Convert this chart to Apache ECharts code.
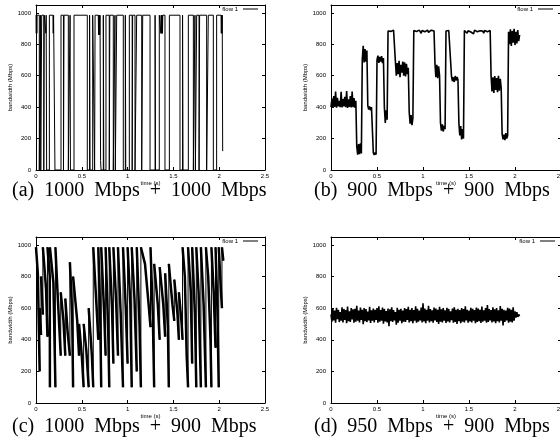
<!DOCTYPE html>
<html>
<head>
<meta charset="utf-8">
<script src="https://cdn.jsdelivr.net/npm/echarts@6/dist/echarts.min.js"></script>
<style>
html, body { margin: 0; padding: 0; background: #fff; }
#main { width: 560px; height: 443px; }
</style>
</head>
<body>
<div id="main"></div>
<script>
// captions under each panel
const captions = [
  '(a)  1000  Mbps  +  1000  Mbps',
  '(b)  900  Mbps  +  900  Mbps',
  '(c)  1000  Mbps  +  900  Mbps',
  '(d)  950  Mbps  +  900  Mbps'
];
const xTicks = [0, 0.5, 1, 1.5, 2, 2.5];
const yTicks = [0, 200, 400, 600, 800, 1000];

// (a) on/off square wave, [time s, Mbps]
const aPoints = [
  [0,985],[0.003,870],[0.006,985],[0.009,870],[0.012,985],[0.036,985],[0.036,0],
  [0.048,0],[0.048,985],[0.052,985],[0.052,0],
  [0.062,0],[0.062,985],[0.085,985],[0.085,0],[0.09,0],[0.09,985],[0.105,985],[0.108,870],[0.111,985],[0.116,985],[0.116,0],
  [0.146,0],[0.146,985],[0.185,985],[0.188,870],[0.192,985],[0.207,985],[0.207,0],
  [0.273,0],[0.273,985],[0.30,985],[0.30,0],[0.306,0],[0.306,985],[0.353,985],[0.353,0],
  [0.372,0],[0.372,985],[0.376,985],[0.376,0],
  [0.415,0],[0.415,985],[0.56,985],[0.56,0],
  [0.585,0],[0.585,985],[0.59,985],[0.59,0],
  [0.619,0],[0.619,985],[0.64,985],[0.64,0],[0.645,0],[0.645,985],[0.68,985],[0.683,860],[0.686,985],[0.689,860],[0.692,985],[0.695,860],[0.699,985],[0.705,985],[0.705,60],[0.71,60],[0.71,0],
  [0.735,0],[0.735,985],[0.74,985],[0.74,0],
  [0.764,0],[0.764,985],[0.80,985],[0.80,0],[0.806,0],[0.806,985],[0.844,985],[0.844,0],
  [0.862,0],[0.862,985],[0.866,985],[0.866,0],
  [0.881,0],[0.881,985],[0.953,985],[0.953,0],
  [0.975,0],[0.975,985],[0.98,985],[0.98,0],
  [1.019,0],[1.019,985],[1.05,985],[1.05,0],[1.055,0],[1.055,985],[1.081,985],[1.081,0],
  [1.099,0],[1.099,985],[1.154,985],[1.154,0],
  [1.165,0],[1.165,985],[1.245,985],[1.245,0],
  [1.30,0],[1.30,985],[1.305,985],[1.305,0],
  [1.346,0],[1.346,985],[1.36,985],[1.363,870],[1.366,985],[1.369,870],[1.372,985],[1.375,870],[1.378,985],[1.381,870],[1.384,985],[1.408,985],[1.408,0],
  [1.456,0],[1.456,985],[1.572,985],[1.572,0],
  [1.60,0],[1.60,985],[1.605,985],[1.605,0],
  [1.663,0],[1.663,985],[1.718,985],[1.718,0],
  [1.735,0],[1.735,985],[1.74,985],[1.74,0],
  [1.754,0],[1.754,985],[1.78,985],[1.78,0],[1.786,0],[1.786,985],[1.863,985],[1.863,0],
  [1.881,0],[1.881,985],[1.936,985],[1.936,0],
  [1.972,0],[1.972,985],[2.02,985],[2.023,870],[2.026,985],[2.03,870],[2.033,985],[2.038,985],[2.038,120]
];

// (b) sampled every 10 ms
const bStep = 0.01;
const bValues = [
  400,455,398,470,402,500,396,460,405,440,400,498,398,452,404,465,400,502,395,450,402,470,398,500,400,458,396,440,
  150,98,165,100,170,105,
  700,790,685,770,690,760,
  410,385,405,380,400,392,
  110,96,112,98,
  700,728,682,720,690,725,680,712,
  400,300,380,320,
  885,878,890,882,888,876,890,884,
  690,600,680,610,695,590,670,620,690,600,685,595,675,610,650,
  370,295,350,285,330,
  888,880,890,882,886,878,890,884,870,888,882,890,880,886,884,890,876,888,882,890,880,886,884,
  680,590,670,585,660,600,
  300,250,290,245,280,260,
  885,890,880,888,884,890,
  595,565,590,560,598,570,592,575,
  300,220,280,195,260,200,
  888,882,890,870,886,884,890,878,888,882,866,890,884,888,880,890,875,886,882,890,884,870,888,882,890,880,886,884,888,
  600,500,590,490,598,510,585,495,600,505,580,520,
  230,195,225,190,235,200,220,
  880,800,895,790,885,810,898,795,880,805,890,820,860
];

// (c) sawtooth, [time s, Mbps]
const cPoints = [
  [0.000,985],[0.020,820],[0.040,200],
  [0.040,600],[0.055,430],
  [0.055,800],[0.075,560],
  [0.075,985],[0.110,720],[0.125,420],
  [0.125,985],[0.150,800],[0.152,100],
  [0.152,985],[0.190,760],[0.212,100],
  [0.212,985],[0.235,700],[0.270,300],
  [0.270,700],[0.300,520],[0.320,300],
  [0.320,660],[0.345,450],[0.370,300],
  [0.370,890],[0.395,560],[0.405,100],
  [0.405,800],[0.450,520],[0.470,300],
  [0.470,500],[0.500,300],[0.520,100],
  [0.520,500],[0.550,330],[0.575,100],
  [0.575,600],[0.610,300],[0.625,100],
  [0.625,985],[0.660,620],[0.680,400],
  [0.680,985],[0.700,600],[0.712,100],
  [0.712,985],[0.745,560],[0.760,300],
  [0.760,985],[0.790,420],[0.800,100],
  [0.800,985],[0.830,600],[0.845,250],
  [0.845,985],[0.875,640],[0.895,300],
  [0.895,985],[0.925,560],[0.950,100],
  [0.950,985],[0.980,600],[1.000,250],
  [1.000,985],[1.030,620],[1.045,100],
  [1.045,985],[1.075,660],[1.100,200],
  [1.100,985],[1.130,500],[1.145,100],
  [1.145,985],[1.190,880],[1.230,620],[1.250,480],
  [1.250,985],[1.275,560],[1.290,100],
  [1.290,880],[1.330,620],[1.350,400],
  [1.350,860],[1.390,620],[1.410,420],
  [1.410,820],[1.440,480],[1.450,100],
  [1.450,880],[1.490,620],[1.510,520],
  [1.510,780],[1.545,560],[1.560,400],
  [1.560,700],[1.590,500],[1.600,400],
  [1.600,985],[1.625,800],[1.645,300],[1.660,100],
  [1.660,985],[1.690,700],[1.705,250],
  [1.705,985],[1.735,560],[1.750,100],
  [1.750,985],[1.775,700],[1.800,100],
  [1.800,985],[1.830,620],[1.855,100],
  [1.855,985],[1.880,800],[1.905,400],[1.915,100],
  [1.915,985],[1.940,700],[1.960,350],
  [1.960,985],[1.980,600],[1.995,100],
  [1.995,985],[2.020,700],[2.030,600],[2.030,985],[2.045,900]
];

// (d) sampled every 10 ms
const dStep = 0.01;
const dValues = [
  560,515,598,522,585,508,602,530,590,512,
  575,520,605,510,595,525,588,505,610,518,
  580,512,600,528,592,508,596,515,615,520,
  585,510,603,525,590,498,600,518,594,512,
  578,522,608,506,586,520,597,510,590,525,
  600,508,612,515,588,520,604,502,595,516,
  582,510,598,485,592,518,606,512,588,522,
  575,495,602,508,590,520,596,505,584,515,
  600,512,594,526,608,510,590,518,600,505,
  588,520,612,508,596,514,585,522,603,510,
  630,516,598,505,590,520,615,510,594,518,
  586,508,604,522,597,512,590,500,608,515,
  592,510,600,520,586,506,602,516,595,510,
  580,524,598,508,606,512,590,500,596,518,
  588,505,600,515,594,510,612,522,590,508,
  584,516,602,510,596,520,588,505,604,512,
  598,518,590,506,610,514,586,520,600,508,
  620,512,594,522,588,510,606,516,592,505,
  600,518,586,510,614,520,596,490,590,512,
  584,522,602,508,598,515,590,510,606,520,
  580,540,575,545,560,550
];

var chartDom = document.getElementById('main');
var myChart = echarts.init(chartDom, null, { renderer: 'canvas' });

const grids = [
  { left: 36, top: 5, width: 229, height: 165, outerBoundsMode: 'none' },
  { left: 331, top: 5, width: 230, height: 165, outerBoundsMode: 'none' },
  { left: 36, top: 237, width: 229, height: 166, outerBoundsMode: 'none' },
  { left: 331, top: 237, width: 230, height: 166, outerBoundsMode: 'none' }
];
const captionPos = [[12, 191], [314, 191], [12, 427], [314, 427]];
const legendPos = [[302, 6], [7, 6], [302, 238], [5, 238]];

const labelFont = { fontSize: 6, color: '#000', fontFamily: 'Liberation Sans' };
const black = { color: '#000', width: 1 };

function sampled(values, step) {
  return values.map((v, i) => [+(i * step).toFixed(3), v]);
}

// keep only the sloped parts of a path, broken at the vertical jumps
function rampsOf(pts) {
  let out = [];
  let inRamp = false;
  for (let i = 0; i < pts.length - 1; i++) {
    if (pts[i + 1][0] > pts[i][0]) {
      if (!inRamp) out.push(pts[i]);
      out.push(pts[i + 1]);
      inRamp = true;
    } else if (inRamp) {
      out.push([pts[i][0], null]);
      inRamp = false;
    }
  }
  return out;
}

let xAxes = [], yAxes = [];
grids.forEach((g, i) => {
  xAxes.push({
    type: 'value', gridIndex: i, position: 'bottom',
    min: 0, max: 2.5, interval: 0.5,
    name: 'time (s)', nameLocation: 'middle', nameGap: 10,
    nameTextStyle: labelFont,
    axisLine: { show: true, onZero: false, lineStyle: black },
    axisTick: { show: true, inside: true, length: 3, lineStyle: black },
    axisLabel: Object.assign({ margin: 3, formatter: v => xTicks.includes(v) ? String(v) : '' }, labelFont),
    splitLine: { show: false }
  });
  xAxes.push({
    type: 'value', gridIndex: i, position: 'top',
    min: 0, max: 2.5, interval: 0.5,
    axisLine: { show: true, onZero: false, lineStyle: black },
    axisTick: { show: true, inside: true, length: 3, lineStyle: black },
    axisLabel: { show: false },
    splitLine: { show: false }
  });
  yAxes.push({
    type: 'value', gridIndex: i, position: 'left',
    min: 0, max: 1050, interval: 200,
    name: 'bandwidth (Mbps)', nameLocation: 'middle', nameGap: 23,
    nameTextStyle: labelFont,
    axisLine: { show: true, onZero: false, lineStyle: black },
    axisTick: { show: true, inside: true, length: 3, lineStyle: black },
    axisLabel: Object.assign({ margin: 5, formatter: v => yTicks.includes(v) ? String(v) : '' }, labelFont),
    splitLine: { show: false }
  });
  yAxes.push({
    type: 'value', gridIndex: i, position: 'right',
    min: 0, max: 1050, interval: 200,
    axisLine: { show: true, onZero: false, lineStyle: black },
    axisTick: { show: true, inside: true, length: 3, lineStyle: black },
    axisLabel: { show: false },
    splitLine: { show: false }
  });
});

function lineSeries(i, data, width) {
  return {
    name: 'flow 1', type: 'line',
    xAxisIndex: 2 * i, yAxisIndex: 2 * i,
    data: data, showSymbol: false, symbol: 'none',
    connectNulls: false,
    lineStyle: { color: '#000', width: width || 1 },
    emphasis: { disabled: true },
    clip: true
  };
}

option = {
  animation: false,
  color: ['#000'],
  grid: grids,
  xAxis: xAxes,
  yAxis: yAxes,
  legend: legendPos.map(p => ({
    data: ['flow 1'], right: p[0], top: p[1],
    orient: 'horizontal', align: 'right',
    icon: 'rect', itemWidth: 15, itemHeight: 1,
    selectedMode: false, padding: 0,
    textStyle: labelFont
  })),
  graphic: captions.map((c, i) => ({
    type: 'text', x: captionPos[i][0], y: captionPos[i][1],
    style: {
      text: c, fill: '#000',
      font: '20px "Liberation Serif"',
      textAlign: 'left', textVerticalAlign: 'middle'
    }
  })),
  series: [
    lineSeries(0, aPoints),
    lineSeries(1, sampled(bValues, bStep), 1.6),
    lineSeries(2, cPoints),
    lineSeries(2, rampsOf(cPoints), 2.5),
    lineSeries(3, sampled(dValues, dStep), 1.6)
  ]
};

option && myChart.setOption(option);
</script>
</body>
</html>
